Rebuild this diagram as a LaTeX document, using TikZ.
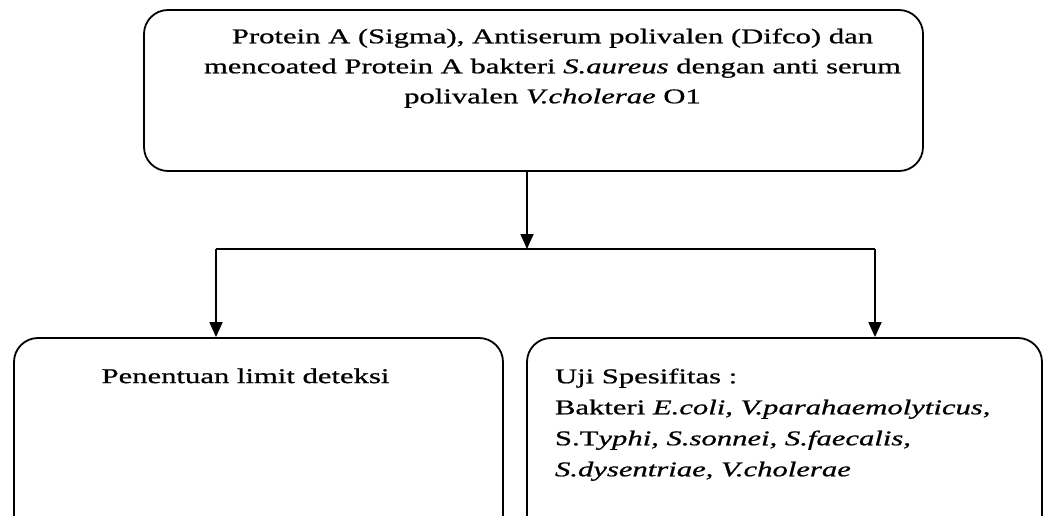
\documentclass[tikz,border=0pt]{standalone}
\usepackage{fontspec}
\setmainfont{Liberation Serif}[FakeStretch=1.46,FakeBold=0.8]
\usetikzlibrary{arrows.meta}

\begin{document}
\begin{tikzpicture}[x=1pt,y=-1pt,
    kotak/.style={draw,line width=1.8pt,rounded corners=24pt,inner sep=0pt},
    panah/.style={line width=1.8pt,-{Triangle[length=15pt,width=13pt]}}]
    \useasboundingbox (0,0) rectangle (1045,516);
    \clip (0,0) rectangle (1045,516);
    \node[kotak] (sumber) at (533.5,90.5) {\parbox[c][161pt][t]{779pt}{\vspace*{18.5pt}
        \centering\leftskip=38pt plus 1fil
        \fontsize{21}{30}\selectfont
        Protein A (Sigma), Antiserum polivalen (Difco) dan\\
        mencoated Protein A bakteri \textit{S.aureus} dengan anti serum\\
        polivalen \textit{V.cholerae} O1}};
    \node[kotak] (limit) at (258.5,448) {\parbox[c][220pt][t]{489pt}{\vspace*{30.5pt}
        \centering\rightskip=26pt plus 1fil
        \fontsize{21}{31}\selectfont
        Penentuan limit deteksi}};
    \node[kotak] (spesifitas) at (784.5,448) {\parbox[c][220pt][t]{515pt}{\vspace*{30.5pt}
        \leftskip=28pt\rightskip=0pt plus 1fil\parindent=0pt
        \fontsize{21}{31}\selectfont
        Uji Spesifitas :\\
        Bakteri \textit{E.coli, V.parahaemolyticus,}\\
        S.T\textit{yphi, S.sonnei, S.faecalis,}\\
        \textit{S.dysentriae, V.cholerae}}};
    \coordinate (cabang) at (527,249);
    \coordinate (kiri) at (216,249);
    \coordinate (kanan) at (875,249);
    \draw[panah] (sumber.south -| cabang) -- (cabang);
    \draw[line width=1.8pt] (kiri) -- (kanan);
    \draw[panah] (kiri) -- (kiri |- limit.north);
    \draw[panah] (kanan) -- (kanan |- spesifitas.north);
\end{tikzpicture}
\end{document}
